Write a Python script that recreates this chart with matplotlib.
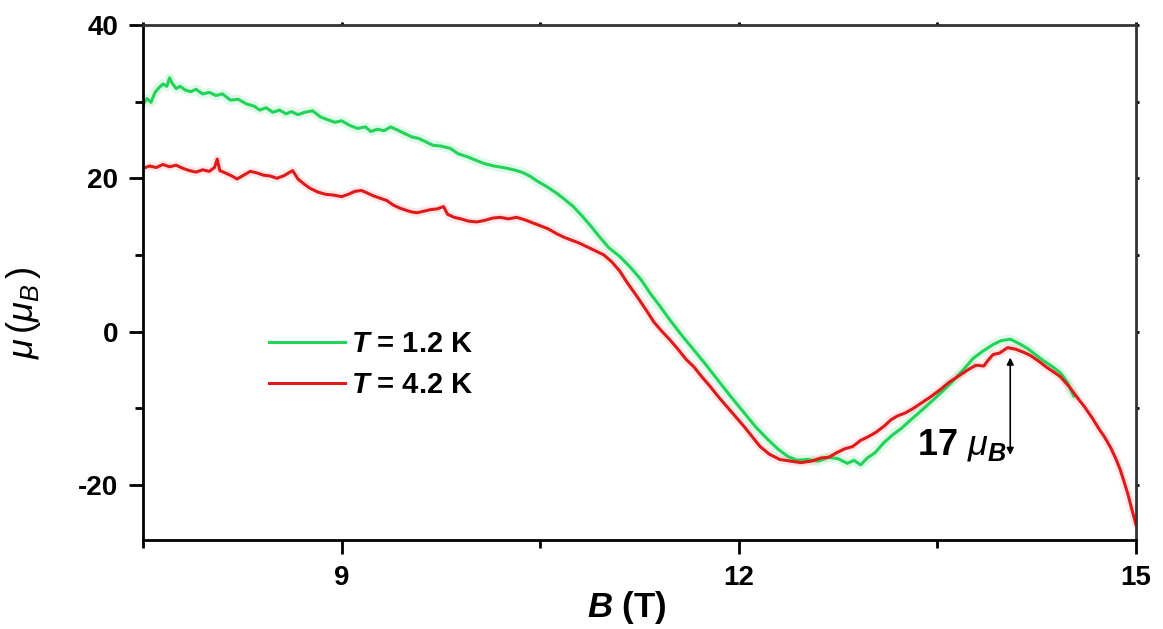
"""
Magnetic moment versus applied field at two temperatures.
"""

import matplotlib.pyplot as plt
from matplotlib.ticker import MultipleLocator

# T = 1.2 K sweep
B_low = [7.50, 7.53, 7.56, 7.59, 7.62, 7.65, 7.68, 7.70, 7.72, 7.75, 7.78, 7.82,
         7.86, 7.90, 7.95, 8.00, 8.05, 8.10, 8.16, 8.22, 8.28, 8.34, 8.38, 8.43,
         8.48, 8.53, 8.58, 8.62, 8.67, 8.72, 8.78, 8.84, 8.90, 8.95, 9.00, 9.06,
         9.12, 9.18, 9.22, 9.27, 9.32, 9.37, 9.42, 9.48, 9.53, 9.58, 9.63, 9.69,
         9.75, 9.82, 9.88, 9.95, 10.02, 10.08, 10.15, 10.22, 10.30, 10.36, 10.42,
         10.48, 10.55, 10.62, 10.68, 10.75, 10.82, 10.88, 10.95, 11.02, 11.10,
         11.18, 11.26, 11.33, 11.40, 11.48, 11.56, 11.66, 11.75, 11.84, 11.94,
         12.04, 12.13, 12.22, 12.30, 12.37, 12.44, 12.52, 12.60, 12.68, 12.75,
         12.82, 12.87, 12.92, 12.97, 13.03, 13.09, 13.16, 13.23, 13.30, 13.38,
         13.47, 13.55, 13.62, 13.70, 13.77, 13.84, 13.92, 13.98, 14.05, 14.12,
         14.18, 14.24, 14.30, 14.37, 14.43, 14.48, 14.53]
mu_low = [29.6, 30.4, 29.9, 31.2, 31.8, 32.3, 32.0, 33.1, 32.4, 31.7, 32.0, 31.5,
          31.3, 31.6, 31.0, 31.2, 30.8, 31.0, 30.2, 30.3, 29.7, 29.4, 28.9, 29.2,
          28.6, 28.9, 28.4, 28.7, 28.3, 28.6, 28.8, 28.0, 27.6, 27.3, 27.5, 26.9,
          26.5, 26.7, 26.1, 26.4, 26.2, 26.7, 26.3, 25.8, 25.4, 25.2, 24.8, 24.3,
          24.2, 23.9, 23.2, 22.8, 22.3, 21.9, 21.6, 21.4, 21.1, 20.8, 20.3,
          19.6, 18.9, 18.1, 17.3, 16.3, 15.0, 13.8, 12.3, 10.9, 9.8,
          8.4, 6.8, 5.0, 3.4, 1.5, -0.3, -2.4, -4.3, -6.3, -8.5,
          -10.6, -12.5, -14.1, -15.4, -16.3, -16.8, -16.7, -16.9, -16.4, -16.6,
          -17.2, -16.8, -17.4, -16.5, -15.8, -14.6, -13.5, -12.6, -11.5, -10.3,
          -8.9, -7.6, -6.4, -4.9, -3.5, -2.6, -1.7, -1.2, -1.0, -1.6,
          -2.2, -3.0, -3.8, -4.6, -5.4, -6.6, -8.4]

# T = 4.2 K sweep
B_high = [7.50, 7.55, 7.60, 7.65, 7.70, 7.75, 7.80, 7.85, 7.90, 7.95, 8.00, 8.04,
          8.06, 8.08, 8.12, 8.17, 8.21, 8.26, 8.31, 8.36, 8.41, 8.46, 8.51, 8.56,
          8.60, 8.63, 8.67, 8.72, 8.76, 8.82, 8.88, 8.94, 9.00, 9.05, 9.10, 9.15,
          9.19, 9.24, 9.29, 9.34, 9.39, 9.44, 9.49, 9.53, 9.57, 9.62, 9.67, 9.72,
          9.77, 9.80, 9.85, 9.90, 9.96, 10.02, 10.08, 10.14, 10.20, 10.26, 10.32,
          10.38, 10.44, 10.50, 10.56, 10.62, 10.68, 10.74, 10.80, 10.86, 10.92,
          10.98, 11.04, 11.10, 11.16, 11.23, 11.30, 11.36, 11.41, 11.48, 11.54,
          11.60, 11.66, 11.72, 11.78, 11.85, 11.91, 11.98, 12.04, 12.10, 12.16,
          12.23, 12.31, 12.39, 12.47, 12.55, 12.62, 12.68, 12.74, 12.80, 12.86,
          12.92, 12.98, 13.04, 13.10, 13.15, 13.20, 13.26, 13.32, 13.38, 13.45,
          13.52, 13.59, 13.66, 13.73, 13.79, 13.85, 13.88, 13.92, 13.97, 14.03,
          14.09, 14.15, 14.20, 14.26, 14.32, 14.38, 14.43, 14.50, 14.56, 14.61,
          14.67, 14.72, 14.76, 14.81, 14.85, 14.88, 14.91, 14.94, 14.97, 15.00]
mu_high = [21.3, 21.6, 21.4, 21.8, 21.5, 21.7, 21.3, 21.0, 20.8, 21.1, 20.9, 21.4,
           22.5, 21.0, 20.7, 20.3, 19.9, 20.4, 20.9, 20.7, 20.4, 20.3, 20.0, 20.3,
           20.7, 21.0, 19.9, 19.2, 18.7, 18.2, 17.9, 17.8, 17.6, 17.9, 18.3, 18.4,
           18.1, 17.7, 17.4, 17.1, 16.5, 16.1, 15.8, 15.6, 15.5, 15.7, 15.9, 16.0,
           16.3, 15.3, 14.9, 14.7, 14.4, 14.3, 14.5, 14.8, 14.9, 14.7, 14.9,
           14.6, 14.2, 13.8, 13.4, 12.8, 12.3, 11.9, 11.5, 11.0, 10.5,
           10.0, 9.1, 7.9, 6.3, 4.6, 2.8, 1.2, 0.2, -1.1, -2.3,
           -3.6, -4.6, -5.9, -7.1, -8.6, -9.8, -11.2, -12.4, -13.7, -15.0,
           -16.0, -16.7, -16.9, -17.1, -16.9, -16.5, -16.4, -15.8, -15.3, -15.0,
           -14.2, -13.7, -13.1, -12.3, -11.5, -11.0, -10.6, -10.0, -9.3, -8.5,
           -7.6, -6.6, -5.8, -5.0, -4.4, -4.5, -3.8, -3.0, -2.8, -2.1,
           -2.3, -2.7, -3.1, -3.8, -4.6, -5.3, -5.9, -7.3, -8.7, -9.8,
           -11.3, -12.7, -13.7, -15.2, -16.7, -18.0, -19.6, -21.3, -23.3, -25.2]

labels = [r'$\mathbfit{T}$ = 1.2 K', r'$\mathbfit{T}$ = 4.2 K']

# field and moment range spanned by the 17 mu_B arrow
arrow_B = 14.05
arrow_top = -3.4
arrow_bottom = -16.1

plt.rcParams['font.family'] = 'Liberation Sans'
plt.rcParams['axes.unicode_minus'] = False
plt.rcParams['mathtext.fontset'] = 'custom'
plt.rcParams['mathtext.rm'] = 'Liberation Sans'
plt.rcParams['mathtext.it'] = 'Liberation Sans:italic'
plt.rcParams['mathtext.bf'] = 'Liberation Sans:bold'
plt.rcParams['mathtext.bfit'] = 'Liberation Sans:bold:italic'

green = '#22d35a'
red = '#e01a1a'

fig = plt.figure(figsize=(11.63, 6.29), dpi=100, facecolor='white')
ax = fig.add_axes([0.1230, 0.1415, 0.8538, 0.8188])

# soft glow under each trace
ax.plot(B_low, mu_low, color=green, lw=7, alpha=0.14, solid_capstyle='round')
ax.plot(B_high, mu_high, color=red, lw=6, alpha=0.10, solid_capstyle='round')
ax.plot(B_low, mu_low, color=green, lw=2.2, label=labels[0])
ax.plot(B_high, mu_high, color=red, lw=2.2, label=labels[1])

ax.set_xlim(7.5, 15)
ax.set_ylim(-27.2, 40)

ax.xaxis.set_major_locator(MultipleLocator(3))
ax.xaxis.set_minor_locator(MultipleLocator(1.5))
ax.yaxis.set_major_locator(MultipleLocator(20))
ax.yaxis.set_minor_locator(MultipleLocator(10))

ax.tick_params(axis='both', which='major', direction='out', length=10, width=2,
               labelsize=20, pad=8)
ax.tick_params(axis='both', which='minor', direction='out', length=6, width=2)
ax.tick_params(axis='x', which='both', top=True)
ax.tick_params(axis='y', which='both', right=True)
for lab in ax.get_xticklabels() + ax.get_yticklabels():
    lab.set_fontweight('bold')

# top and right ticks are only short stubs
for t in ax.xaxis.get_major_ticks() + ax.xaxis.get_minor_ticks():
    t.tick2line.set_markersize(2)
for t in ax.yaxis.get_major_ticks() + ax.yaxis.get_minor_ticks():
    t.tick2line.set_markersize(2)

for side in ['left', 'bottom']:
    ax.spines[side].set_linewidth(2)
for side in ['top', 'right']:
    ax.spines[side].set_linewidth(2)
    ax.spines[side].set_color('#333333')

ax.set_xlabel(r'$\mathbfit{B}$ (T)', fontsize=25, fontweight='bold')
ax.xaxis.set_label_coords(0.487, -0.095)
ax.set_ylabel(r'$\mu\,(\mu_B\,)$', fontsize=26)
ax.yaxis.set_label_coords(-0.101, 0.44)

leg = ax.legend(loc='center left', bbox_to_anchor=(0.115, 0.34), frameon=False,
                borderaxespad=0, handlelength=2.6, handletextpad=0.2,
                labelspacing=0.45, prop={'size': 21, 'weight': 'bold'})

# double-headed arrow marking the oscillation amplitude
ax.annotate('', xy=(arrow_B, arrow_top), xytext=(arrow_B, arrow_bottom),
            arrowprops=dict(arrowstyle='<|-|>', color='black', lw=1.2,
                            mutation_scale=10, shrinkA=0, shrinkB=0))
ax.text(arrow_B - 0.03, arrow_bottom, r'17 $\mu_{\mathbfit{B}}$',
        ha='right', va='baseline', fontsize=26, fontweight='bold')

fig.savefig('out.png', dpi=100, facecolor='white')
